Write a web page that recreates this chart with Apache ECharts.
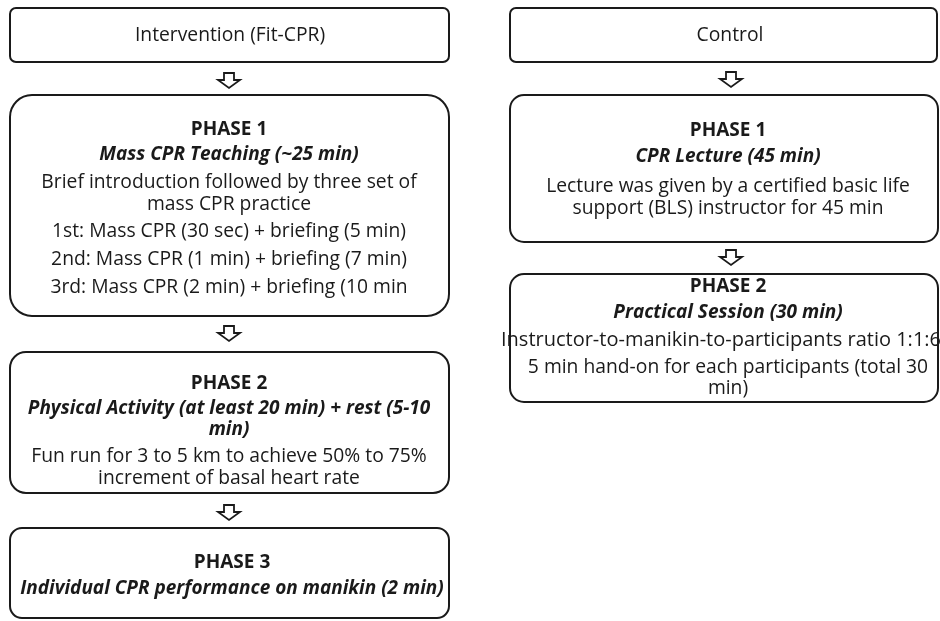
<!DOCTYPE html>
<html>
<head>
<meta charset="utf-8">
<script src="https://cdn.jsdelivr.net/npm/echarts@6/dist/echarts.min.js"></script>
<style>
  html, body { margin: 0; padding: 0; background: #fff; }
  #main { width: 940px; height: 621px; }
</style>
</head>
<body>
<div id="main"></div>
<script>
var myChart = echarts.init(document.getElementById('main'));

// box texts: [style, text]  h = heading, i = bold italic, n = normal
var interventionHead = [['n', 'Intervention (Fit-CPR)']];
var interventionPhase1 = [
	['h', 'PHASE 1'],
	['i', 'Mass CPR Teaching (~25 min)'],
	['n', 'Brief introduction followed by three set of'],
	['n', 'mass CPR practice'],
	['n', '1st: Mass CPR (30 sec) + briefing (5 min)'],
	['n', '2nd: Mass CPR (1 min) + briefing (7 min)'],
	['n', '3rd: Mass CPR (2 min) + briefing (10 min']
];
var interventionPhase2 = [
	['h', 'PHASE 2'],
	['i', 'Physical Activity (at least 20 min) + rest (5-10'],
	['i', 'min)'],
	['n', 'Fun run for 3 to 5 km to achieve 50% to 75%'],
	['n', 'increment of basal heart rate']
];
var interventionPhase3 = [
	['h', 'PHASE 3'],
	['i', 'Individual CPR performance on manikin (2 min)']
];
var controlHead = [['n', 'Control']];
var controlPhase1 = [
	['h', 'PHASE 1'],
	['i', 'CPR Lecture (45 min)'],
	['n', 'Lecture was given by a certified basic life'],
	['n', 'support (BLS) instructor for 45 min']
];
var controlPhase2 = [
	['h', 'PHASE 2'],
	['i', 'Practical Session (30 min)'],
	['n', 'Instructor-to-manikin-to-participants ratio 1:1:6'],
	['n', '5 min hand-on for each participants (total 30'],
	['n', 'min)']
];

// layout: box geometry and the y of each text line
var boxes = [
	{ lines: interventionHead, x: 10, y: 8, w: 439, h: 54, r: 6, cx: 230, ly: [36] },
	{ lines: interventionPhase1, x: 10, y: 95, w: 439, h: 221, r: 22, cx: 229, ly: [130, 155, 183, 205, 232, 260, 288] },
	{ lines: interventionPhase2, x: 10, y: 352, w: 439, h: 141, r: 16, cx: 229, ly: [384, 409, 430, 457, 479] },
	{ lines: interventionPhase3, x: 10, y: 528, w: 439, h: 90, r: 12, cx: 232, ly: [563, 589] },
	{ lines: controlHead, x: 510, y: 8, w: 427, h: 54, r: 6, cx: 730, ly: [36] },
	{ lines: controlPhase1, x: 510, y: 95, w: 428, h: 147, r: 14, cx: 728, ly: [131, 157, 187, 209] },
	{ lines: controlPhase2, x: 510, y: 274, w: 428, h: 128, r: 14, cx: 728, ly: [287, 313, 340, 368, 389],
		adjust: { 2: { fs: 20, dx: -7 } } }
];
var arrows = [
	{ cx: 229, y: 73 }, { cx: 229, y: 326 }, { cx: 229, y: 505 },
	{ cx: 731, y: 72 }, { cx: 731, y: 250 }
];

var fontFamily = 'Open Sans';
var styles = {
	h: { fontWeight: 'bold', fontStyle: 'normal', fontSize: 19 },
	i: { fontWeight: 'bold', fontStyle: 'italic', fontSize: 19 },
	n: { fontWeight: 'normal', fontStyle: 'normal', fontSize: 19.3 }
};

var elements = [];
boxes.forEach(function (b) {
	elements.push({
		type: 'rect',
		shape: { x: b.x, y: b.y, width: b.w, height: b.h, r: b.r },
		style: { fill: '#fff', stroke: '#1a1a1a', lineWidth: 2 }
	});
	b.lines.forEach(function (ln, i) {
		var s = styles[ln[0]];
		var adj = (b.adjust && b.adjust[i]) || {};
		elements.push({
			type: 'text',
			x: b.cx + (adj.dx || 0),
			y: b.ly[i],
			style: {
				text: ln[1],
				textAlign: 'center',
				textVerticalAlign: 'middle',
				fill: '#1a1a1a',
				fontFamily: fontFamily,
				fontSize: adj.fs || s.fontSize,
				fontWeight: s.fontWeight,
				fontStyle: s.fontStyle
			}
		});
	});
});
arrows.forEach(function (a) {
	var c = a.cx, y = a.y;
	elements.push({
		type: 'polygon',
		shape: {
			points: [
				[c - 5, y], [c + 5, y], [c + 5, y + 7], [c + 11, y + 7],
				[c, y + 15], [c - 11, y + 7], [c - 5, y + 7]
			]
		},
		style: { fill: '#fff', stroke: '#1a1a1a', lineWidth: 1.8 }
	});
});

var option = {
	animation: false,
	graphic: { elements: elements }
};

myChart.setOption(option);
</script>
</body>
</html>
